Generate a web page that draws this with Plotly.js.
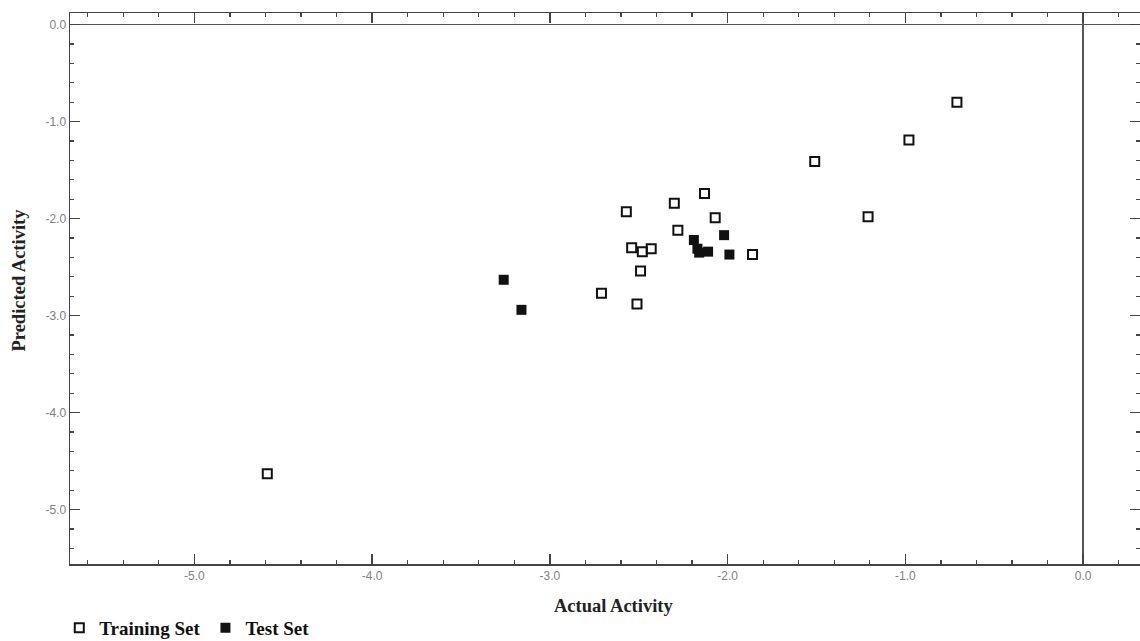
<!DOCTYPE html>
<html>
<head>
<meta charset="utf-8">
<script src="https://cdn.plot.ly/plotly-3.0.1.min.js"></script>
<style>html,body{margin:0;padding:0;background:#fff;}#chart{width:1140px;height:641px;}</style>
</head>
<body>
<div id="chart"></div>
<script>
// Training set (open squares)
const trainActual = [-4.59, -0.71, -0.98, -1.51, -1.21, -2.57, -2.30, -2.13, -2.07, -2.28, -2.54, -2.48, -2.43, -2.49, -2.71, -2.51, -1.86];
const trainPredicted = [-4.63, -0.80, -1.19, -1.41, -1.98, -1.93, -1.84, -1.74, -1.99, -2.12, -2.30, -2.34, -2.31, -2.54, -2.77, -2.88, -2.37];
// Test set (filled squares)
const testActual = [-3.26, -3.16, -2.19, -2.17, -2.16, -2.11, -2.02, -1.99];
const testPredicted = [-2.63, -2.94, -2.22, -2.31, -2.35, -2.34, -2.17, -2.37];
// Tick labels
const xTickVals = [-5, -4, -3, -2, -1, 0];
const xTickText = ["-5.0", "-4.0", "-3.0", "-2.0", "-1.0", "0.0"];
const yTickVals = [0, -1, -2, -3, -4, -5];
const yTickText = ["0.0", "-1.0", "-2.0", "-3.0", "-4.0", "-5.0"];
const xTitle = 'Actual Activity';
const yTitle = 'Predicted Activity';

const traces = [
  {x: trainActual, y: trainPredicted, mode: 'markers', type: 'scatter', name: 'Training Set',
   marker: {symbol: 'square-open', size: 9, color: '#111', line: {width: 2, color: '#111'}}},
  {x: testActual, y: testPredicted, mode: 'markers', type: 'scatter', name: 'Test Set',
   marker: {symbol: 'square', size: 10, color: '#111'}}
];

const serif = 'Liberation Serif, Times New Roman, serif';
const axisCommon = {
  showgrid: false, showline: true, linecolor: '#444', linewidth: 1.5,
  mirror: 'ticks', ticks: 'inside', ticklen: 10, tickwidth: 1.5, tickcolor: '#444',
  zeroline: true, zerolinecolor: '#555', zerolinewidth: 1.5,
  tickfont: {family: 'Liberation Sans, Arial, sans-serif', size: 12, color: '#808080'},
  minor: {dtick: 0.2, ticks: 'inside', ticklen: 4, tickwidth: 1.2, tickcolor: '#444'}
};

const layout = {
  width: 1140, height: 641,
  margin: {l: 70, r: 0, t: 13, b: 77, autoexpand: false},
  paper_bgcolor: '#fff', plot_bgcolor: '#fff',
  showlegend: true,
  legend: {orientation: 'h', x: -0.010, xanchor: 'left', y: -0.116, yanchor: 'middle',
           font: {family: serif, size: 19, color: '#111', weight: 'bold'},
           itemclick: false},
  xaxis: Object.assign({}, axisCommon, {
    range: [-5.70, 0.32], tickmode: 'array', tickvals: xTickVals, ticktext: xTickText
  }),
  yaxis: Object.assign({}, axisCommon, {
    range: [-5.56, 0.12], tickmode: 'array', tickvals: yTickVals, ticktext: yTickText
  }),
  annotations: [
    {text: '<b>' + xTitle + '</b>', xref: 'paper', yref: 'paper', x: 0.5075, y: 0,
     xanchor: 'center', yanchor: 'middle', yshift: -42, showarrow: false,
     font: {family: serif, size: 18.5, color: '#222'}},
    {text: '<b>' + yTitle + '</b>', xref: 'paper', yref: 'paper', x: 0, y: 0.5154,
     xanchor: 'center', yanchor: 'middle', xshift: -50.5, textangle: -90, showarrow: false,
     font: {family: serif, size: 18.5, color: '#222'}}
  ]
};

Plotly.newPlot('chart', traces, layout, {staticPlot: true, displayModeBar: false});
</script>
</body>
</html>
